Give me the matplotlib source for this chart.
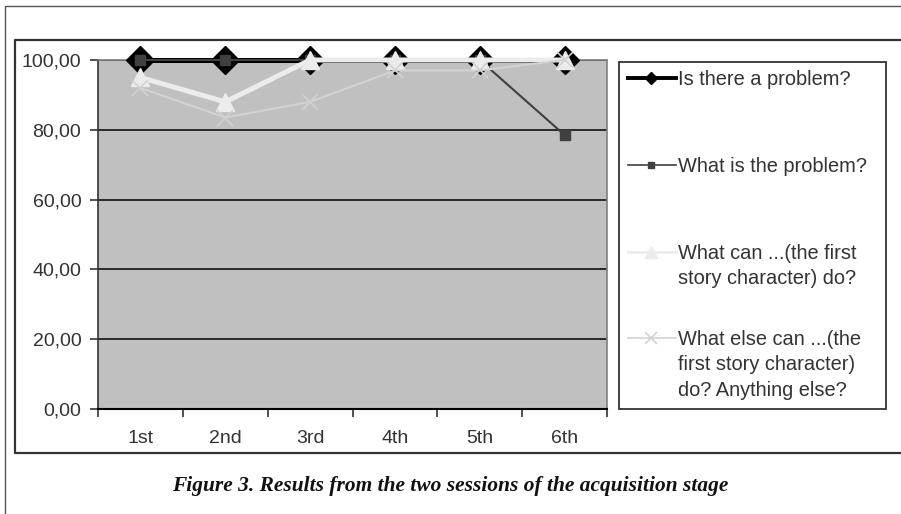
import numpy as np
import matplotlib
matplotlib.use("Agg")
import matplotlib.pyplot as plt
from matplotlib.lines import Line2D
from matplotlib.patches import Rectangle

categories = ["1st", "2nd", "3rd", "4th", "5th", "6th"]
is_there_problem = [100, 100, 100, 100, 100, 100]
what_is_problem = [100, 100, 100, 100, 100, 78.5]
what_can_do = [95, 88, 100, 100, 100, 100]
what_else_can_do = [92, 83.5, 88, 97, 97, 100]
labels = [
    "Is there a problem?",
    "What is the problem?",
    "What can ...(the first\nstory character) do?",
    "What else can ...(the\nfirst story character)\ndo? Anything else?",
]
yticks = [0, 20, 40, 60, 80, 100]
caption = "Figure 3. Results from the two sessions of the acquisition stage"

W, H = 901, 514
fig = plt.figure(figsize=(W / 100, H / 100), dpi=100)
plt.rcParams["font.family"] = ["Liberation Sans", "DejaVu Sans"]

def fx(px):
    return px / W

def fy(py):
    return 1 - py / H

# frames
fig.add_artist(Line2D([fx(5), fx(5), 1.0], [0.0, fy(6), fy(6)], color="#555555", lw=1.0))
fig.add_artist(Line2D([1.0, fx(15), fx(15), 1.0], [fy(40), fy(40), fy(453), fy(453)],
                      color="#333333", lw=1.6))

ax = fig.add_axes([fx(98), fy(409), fx(607) - fx(98), fy(60) - fy(409)])
ax.set_facecolor("#c0c0c0")
x = np.arange(len(categories))

styles = [
    dict(color="#000000", lw=3.6, marker="D", ms=14, mfc="#000000", mec="#000000"),
    dict(color="#404040", lw=1.5, marker="s", ms=6.5, mfc="#404040", mec="#404040"),
    dict(color="#ececec", lw=3.6, marker="^", ms=13, mfc="#ececec", mec="#ececec"),
    dict(color="#d2d2d2", lw=1.5, marker="x", ms=11, mew=1.2, mec="#d2d2d2"),
]
series = [is_there_problem, what_is_problem, what_can_do, what_else_can_do]
for i, (vals, st) in enumerate(zip(series, styles)):
    ax.plot(x, vals, clip_on=False, zorder=3 + i, **st)

ax.set_xlim(-0.5, len(categories) - 0.5)
ax.set_ylim(0, 100)
ax.set_yticks(yticks)
ax.set_yticklabels([f"{v:.2f}".replace(".", ",") for v in yticks])
ax.yaxis.grid(True, color="#000000", lw=1.1)
ax.set_axisbelow(True)
ax.set_xticks(np.arange(-0.5, len(categories), 1.0))
ax.set_xticklabels([])
ax.set_xticks(x, minor=True)
ax.set_xticklabels(categories, minor=True)
ax.tick_params(axis="x", which="major", length=6, width=1.2, color="#333333", direction="out")
ax.tick_params(axis="x", which="minor", length=0, pad=15, labelsize=14, labelcolor="#333333")
ax.tick_params(axis="y", length=6, width=1.2, color="#333333", pad=6, labelsize=14,
               labelcolor="#333333")
for s in ["top", "right"]:
    ax.spines[s].set_color("#808080")
    ax.spines[s].set_linewidth(1.2)
ax.spines["left"].set_color("#333333")
ax.spines["left"].set_linewidth(1.2)
ax.spines["bottom"].set_color("#000000")
ax.spines["bottom"].set_linewidth(1.5)

# legend box (manual, Excel-like)
fig.add_artist(Rectangle((fx(619), fy(409)), fx(886) - fx(619), fy(62) - fy(409),
                         transform=fig.transFigure, fill=False, ec="#333333", lw=1.3))
entry_y = [78, 165, 252, 338]
line_step = 25.5
leg_styles = [
    dict(color="#000000", lw=2.8, marker="D", ms=6, mfc="#000000", mec="#000000"),
    dict(color="#404040", lw=1.2, marker="s", ms=5, mfc="#404040", mec="#404040"),
    dict(color="#ececec", lw=2.0, marker="^", ms=8, mfc="#ececec", mec="#ececec"),
    dict(color="#d2d2d2", lw=1.2, marker="x", ms=9, mew=1.2, mec="#d2d2d2"),
]
for lab, yy, st in zip(labels, entry_y, leg_styles):
    fig.add_artist(Line2D([fx(628), fx(651), fx(676)], [fy(yy)] * 3, markevery=[1], **st))
    for k, part in enumerate(lab.split("\n")):
        fig.text(fx(678), fy(yy + 7 + k * line_step), part, ha="left", va="baseline",
                 fontsize=14.4, color="#333333")

fig.text(0.5, fy(491), caption, ha="center", va="baseline", fontsize=15.4,
         family="Liberation Serif", weight="bold", style="italic", color="#111111")

fig.savefig("out.png", dpi=100)
